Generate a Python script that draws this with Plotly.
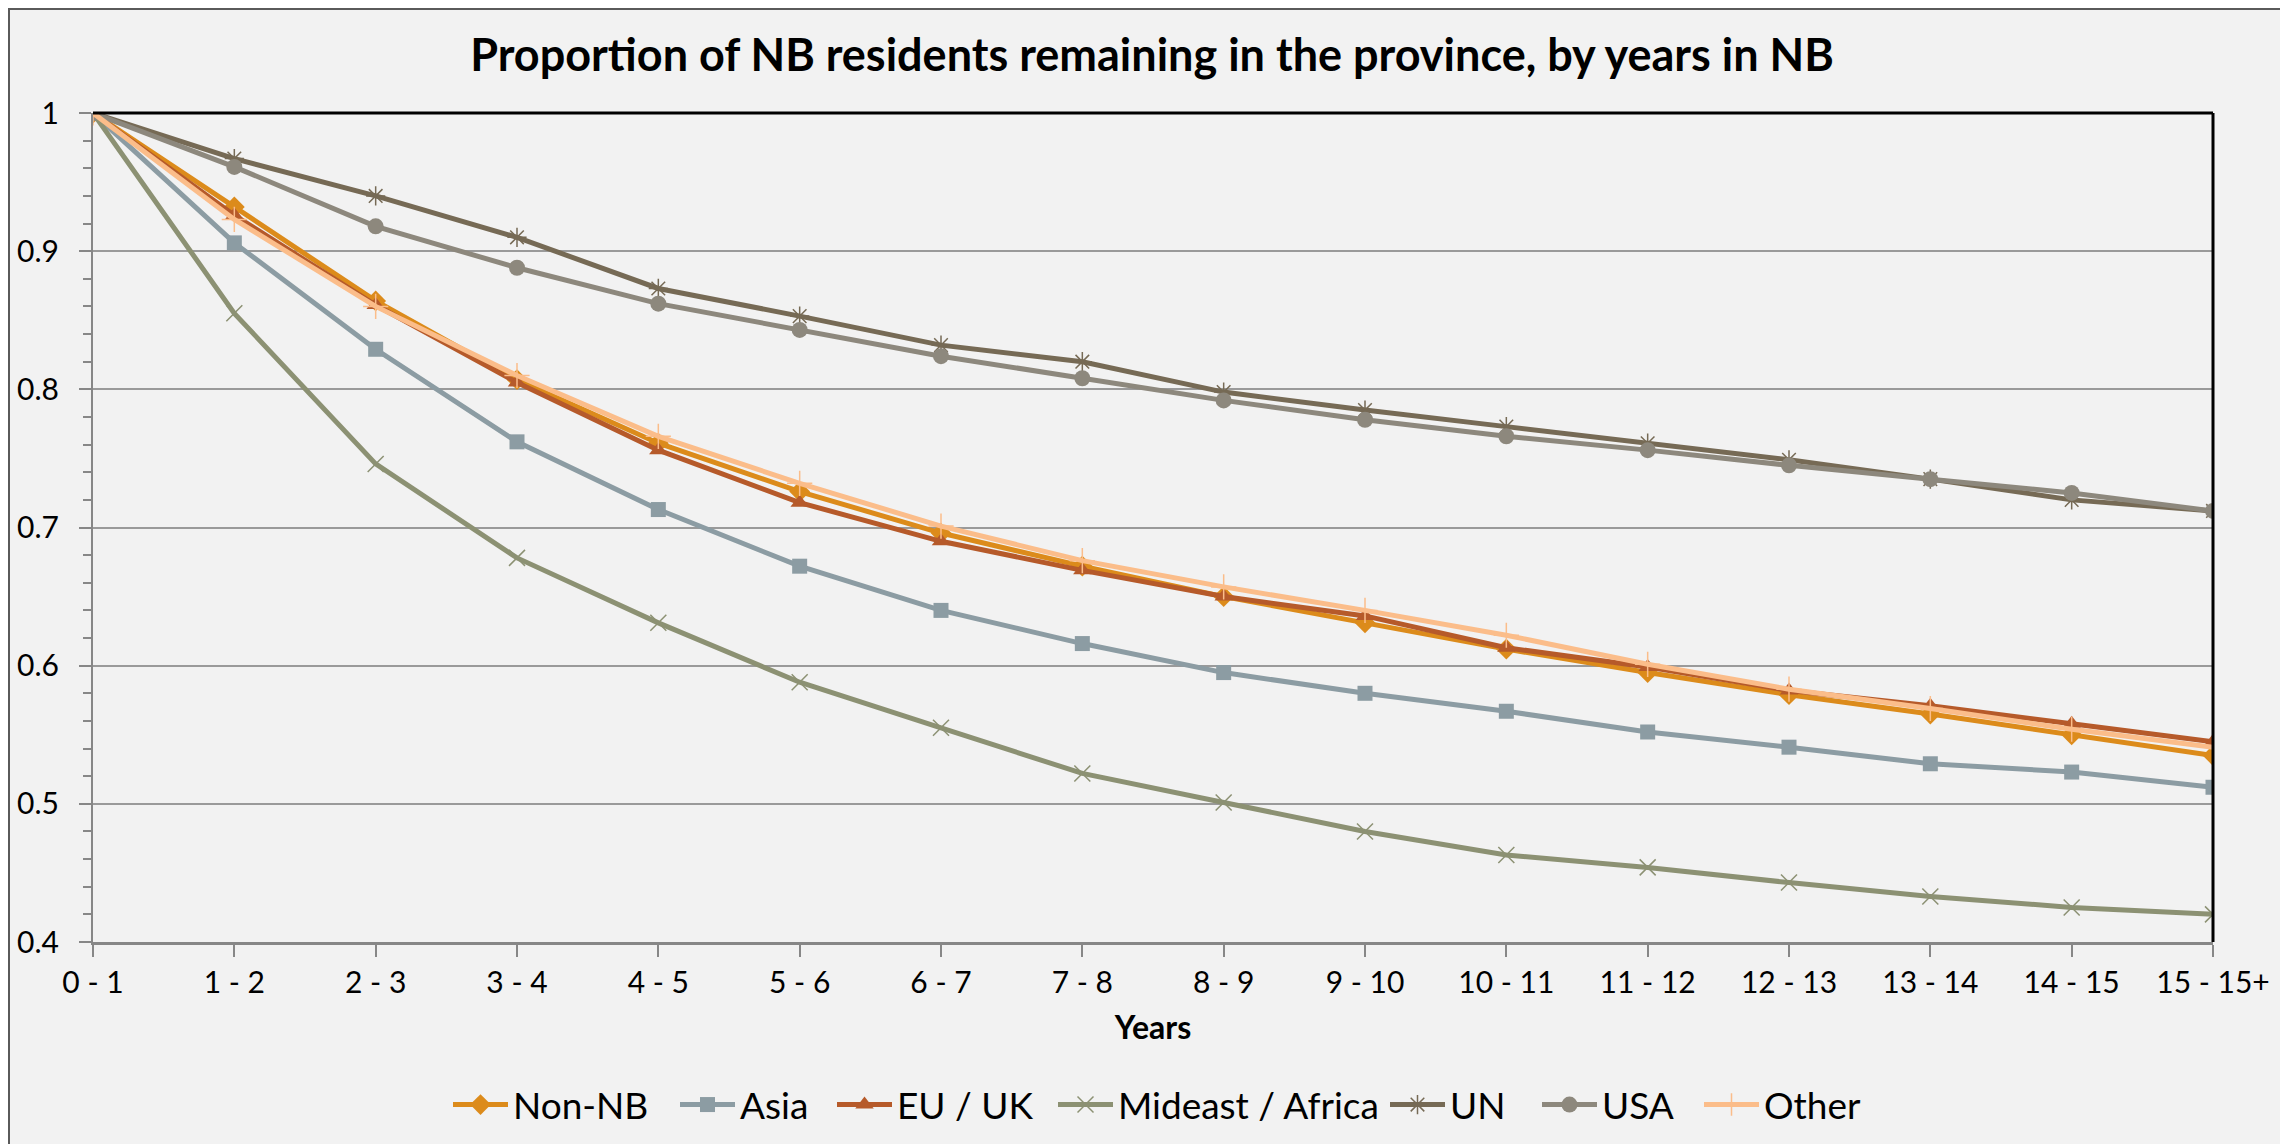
import plotly.graph_objects as go

categories = ["0 - 1", "1 - 2", "2 - 3", "3 - 4", "4 - 5", "5 - 6", "6 - 7", "7 - 8",
              "8 - 9", "9 - 10", "10 - 11", "11 - 12", "12 - 13", "13 - 14", "14 - 15", "15 - 15+"]

non_nb = [1, 0.932, 0.864, 0.807, 0.761, 0.726, 0.696, 0.672, 0.650, 0.631, 0.612, 0.595, 0.579, 0.565, 0.550, 0.535]
asia = [1, 0.906, 0.829, 0.762, 0.713, 0.672, 0.640, 0.616, 0.595, 0.580, 0.567, 0.552, 0.541, 0.529, 0.523, 0.512]
eu_uk = [1, 0.926, 0.861, 0.805, 0.756, 0.718, 0.690, 0.669, 0.650, 0.636, 0.613, 0.599, 0.582, 0.571, 0.558, 0.545]
mideast_africa = [1, 0.855, 0.746, 0.678, 0.631, 0.588, 0.555, 0.522, 0.501, 0.480, 0.463, 0.454, 0.443, 0.433, 0.425, 0.420]
un = [1, 0.967, 0.940, 0.910, 0.873, 0.853, 0.832, 0.820, 0.798, 0.785, 0.773, 0.761, 0.749, 0.735, 0.720, 0.712]
usa = [1, 0.961, 0.918, 0.888, 0.862, 0.843, 0.824, 0.808, 0.792, 0.778, 0.766, 0.756, 0.745, 0.735, 0.725, 0.712]
other = [1, 0.923, 0.860, 0.810, 0.766, 0.732, 0.701, 0.676, 0.657, 0.640, 0.622, 0.601, 0.583, 0.569, 0.554, 0.541]

y_tickvals = [0.4, 0.5, 0.6, 0.7, 0.8, 0.9, 1.0]
y_ticktext = ["0.4", "0.5", "0.6", "0.7", "0.8", "0.9", "1"]

series = [
    ("Non-NB", non_nb, "#DC8B1B", "diamond", 16, 0),
    ("Asia", asia, "#8C9CA3", "square", 15, 0),
    ("EU / UK", eu_uk, "#B65A2A", "triangle-up", 16, 0),
    ("Mideast / Africa", mideast_africa, "#8C9173", "x-thin-open", 16, 1.5),
    ("UN", un, "#766A55", "asterisk-open", 16, 1.5),
    ("USA", usa, "#8D887D", "circle", 16, 0),
    ("Other", other, "#FBBD8A", "cross-thin-open", 18, 1.5),
]

# left edge (px) of each legend entry along the bottom of the chart
legend_x_px = [440, 667, 824, 1045, 1377, 1529, 1691]

W, H = 2288, 1144
ML, MR, MT, MB = 85, 83, 105, 210
PW, PH = W - ML - MR, H - MT - MB

FONT = "Lato"

fig = go.Figure()
legend_layouts = {}
for i, (name, vals, color, sym, size, lw) in enumerate(series):
    marker = dict(symbol=sym, size=size, color=color)
    if lw:
        marker["line"] = dict(color=color, width=lw)
    lname = "legend" if i == 0 else f"legend{i + 1}"
    fig.add_trace(go.Scatter(
        x=categories, y=vals, name=name, mode="lines+markers",
        line=dict(color=color, width=5), marker=marker, legend=lname,
    ))
    legend_layouts[lname] = dict(
        orientation="h", x=legend_x_px[i] / W, xanchor="left", xref="container",
        y=1 - 1097 / H, yanchor="middle", yref="container",
        font=dict(family=FONT, size=37, color="#000000"),
        bgcolor="rgba(0,0,0,0)", itemwidth=55, borderwidth=0,
    )

fig.update_layout(
    width=W, height=H,
    paper_bgcolor="#F2F2F2", plot_bgcolor="#F2F2F2",
    margin=dict(l=ML, r=MR, t=MT, b=MB, autoexpand=False),
    font=dict(family=FONT, color="#000000", size=30),
    title=dict(text="Proportion of NB residents remaining in the province, by years in NB",
               x=0.5, xanchor="center", y=1 - 47 / H, yanchor="middle", yref="container",
               font=dict(family=FONT, size=45, weight=700, color="#000000")),
    showlegend=True,
    xaxis=dict(
        type="category", range=[0, 15], automargin=False,
        showline=True, linecolor="#878787", linewidth=3,
        ticks="outside", ticklen=12, tickcolor="#878787", tickwidth=2,
        showgrid=False, zeroline=False,
        tickfont=dict(family=FONT, size=30, color="#000000"),
        ticklabelstandoff=0,
        title=dict(text="Years", standoff=19,
                   font=dict(family=FONT, size=32, weight=700, color="#000000")),
    ),
    yaxis=dict(
        range=[0.4, 1.0], automargin=False,
        tickmode="array", tickvals=y_tickvals, ticktext=y_ticktext,
        showline=True, linecolor="#878787", linewidth=2,
        ticks="outside", ticklen=12, tickcolor="#878787", tickwidth=2,
        showgrid=True, gridcolor="#9A9A9A", gridwidth=2,
        zeroline=False,
        tickfont=dict(family=FONT, size=30, color="#000000"),
        ticklabelstandoff=14,
        minor=dict(tickmode="linear", tick0=0.4, dtick=0.02, ticks="outside",
                   ticklen=8, tickcolor="#878787", tickwidth=2, showgrid=False),
    ),
    shapes=[
        dict(type="line", xref="paper", yref="paper", x0=0, x1=1, y0=1, y1=1,
             line=dict(color="#000000", width=3), layer="above"),
        dict(type="line", xref="paper", yref="paper", x0=1, x1=1, y0=0, y1=1,
             line=dict(color="#000000", width=3), layer="above"),
        dict(type="rect", xref="paper", yref="paper",
             x0=-(ML - 1) / PW, x1=1 + (MR - 1) / PW,
             y0=-(MB - 1) / PH, y1=1 + (MT - 1) / PH,
             line=dict(color="#5A5A5A", width=2), layer="below"),
    ],
    **legend_layouts,
)

fig.write_html("out.html")
